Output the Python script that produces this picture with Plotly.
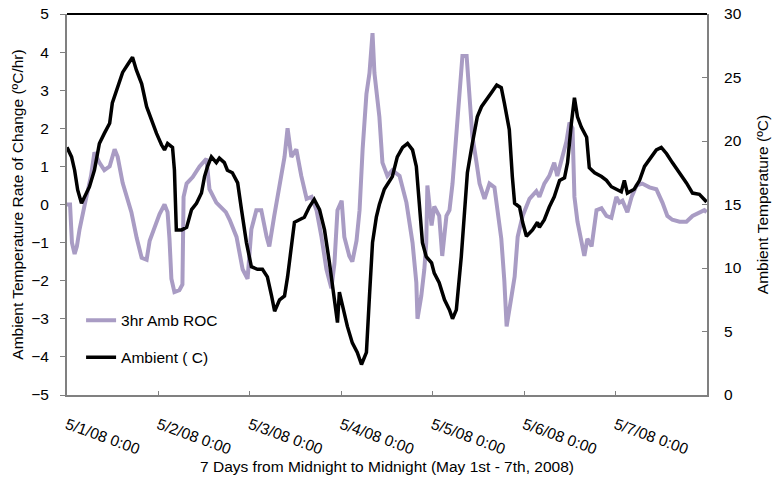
import plotly.graph_objects as go

# ---- data (hours since 5/1/08 0:00) ----
roc_hours = [0, 0.8, 1.3, 2.0, 2.6, 3.3, 4.6, 6.3, 7.2, 8.5, 9.8, 11.2, 12.5, 13.3, 14.6, 15.6,
             16.9, 18.3, 19.6, 20.9, 21.7, 23.0, 24.3, 25.6, 26.4, 26.9, 27.4, 28.2, 29.5, 30.3,
             30.6, 31.4, 33.0, 34.8, 36.6, 37.4, 39.2, 41.7, 42.7, 44.5, 46.1, 47.4, 48.4, 49.7,
             51.0, 52.4, 53.1, 54.4, 55.8, 57.1, 57.9, 58.9, 60.2, 61.5, 62.9, 64.2, 65.5, 66.8,
             68.1, 69.4, 70.2, 71.0, 72.1, 72.8, 74.1, 74.9, 76.0, 76.8, 77.6, 78.6, 79.4, 80.2,
             80.7, 82.0, 82.8, 84.1, 85.4, 87.3, 89.1, 90.7, 91.7, 92.0, 93.0, 93.8, 94.3, 94.6,
             95.7, 96.4, 97.7, 98.5, 99.6, 100.4, 101.2, 102.2, 103.0, 103.8, 104.9, 105.6, 106.4,
             107.5, 108.3, 109.6, 110.9, 112.2, 113.0, 114.0, 114.8, 115.4, 116.7, 117.5, 118.3,
             119.6, 121.4, 123.2, 124.0, 125.3, 126.6, 127.9, 128.7, 129.8, 131.1, 131.9, 132.7,
             133.2, 134.0, 135.1, 135.8, 136.6, 137.7, 139.0, 140.3, 141.6, 142.9, 144.2, 145.0,
             145.8, 147.1, 148.2, 149.5, 151.0, 152.9, 154.7, 156.3, 157.6, 158.9, 160.8, 162.6,
             164.2, 166.0, 167.3, 167.9]
roc_values = [0, 0, -1.0, -1.3, -1.1, -0.65, -0.03, 0.75, 1.37, 1.1, 0.9, 1.0, 1.45, 1.25, 0.57, 0.2,
              -0.2, -0.88, -1.4, -1.45, -0.95, -0.6, -0.25, 0.0, -0.2, -0.9, -1.95, -2.3, -2.25, -2.1,
              0.2, 0.55, 0.72, 1.0, 1.2, 0.4, 0.05, -0.2, -0.4, -0.85, -1.7, -1.95, -0.65, -0.15,
              -0.15, -0.85, -1.1, -0.3, 0.55, 1.25, 2.0, 1.25, 1.45, 0.75, 0.15, 0.2, -0.15, -0.85,
              -1.7, -2.2, -1.55, -0.15, 0.1, -0.85, -1.35, -1.5, -0.95, -0.15, 1.45, 2.9, 3.45, 4.5,
              3.45, 2.3, 1.1, 0.75, 0.9, 0.75, 0.05, -1.0, -2.05, -3.0, -2.4, -1.7, -1.0, 0.5,
              -0.55, -0.05, -0.3, -1.35, -0.3, -0.15, 0.55, 1.8, 3.1, 3.9, 3.9, 3.0, 1.8,
              1.1, 0.55, 0.15, 0.55, 0.45, -0.15, -0.9, -2.0, -3.2, -2.4, -1.9, -0.85,
              -0.3, 0.15, 0.35, 0.2, 0.55, 0.75, 1.1, 0.75, 1.2, 1.65, 2.15, 2.0,
              0.2, -0.45, -1.0, -1.35, -0.9, -1.1, -0.15, -0.1, -0.3, -0.35, 0.2, 0.05,
              0.1, -0.2, 0.2, 0.5, 0.55, 0.45, 0.4, 0.05, -0.3, -0.4, -0.45, -0.45,
              -0.3, -0.2, -0.15, -0.2]

amb_hours = [0.0, 1.2, 2.0, 2.8, 3.8, 4.6, 5.9, 7.2, 8.5, 9.8, 11.2, 11.9, 13.3, 14.6, 15.9, 17.2,
             18.2, 19.6, 20.9, 22.2, 23.5, 24.8, 25.6, 26.4, 27.7, 28.2, 28.7, 30.1, 31.4, 32.7,
             34.0, 35.3, 36.1, 36.9, 37.9, 39.2, 40.0, 41.3, 42.1, 43.4, 44.8, 45.8, 47.1, 48.4,
             50.0, 51.3, 52.6, 53.7, 54.5, 55.8, 57.1, 57.9, 58.9, 59.7, 61.0, 62.3, 63.6, 64.9,
             66.3, 67.6, 68.9, 70.2, 71.0, 71.5, 72.3, 73.6, 74.9, 76.2, 77.3, 78.6, 79.4, 80.2,
             81.2, 82.0, 83.3, 85.4, 86.7, 88.1, 89.4, 90.7, 91.7, 92.5, 93.3, 94.3, 95.7, 96.4,
             97.7, 99.1, 100.4, 101.2, 102.2, 103.5, 104.3, 105.1, 106.4, 107.7, 108.8, 110.1,
             111.4, 112.8, 114.0, 114.8, 116.1, 116.9, 117.5, 118.8, 119.6, 120.6, 122.2, 123.5,
             124.0, 125.3, 126.6, 127.9, 129.3, 130.6, 131.4, 132.4, 133.2, 134.0, 135.0, 136.4,
             137.1, 138.5, 140.3, 141.6, 142.9, 144.2, 145.5, 146.3, 147.1, 148.9, 150.3, 151.6,
             152.9, 154.7, 156.0, 157.4, 158.9, 160.8, 162.6, 164.2, 166.0, 167.9]
amb_values = [19.5, 18.75, 17.7, 16.15, 15.1, 15.6, 16.4, 17.7, 19.8, 20.6, 21.4, 23.0, 24.2, 25.4, 26.0, 26.6,
              25.6, 24.5, 22.7, 21.6, 20.6, 19.7, 19.3, 19.8, 19.5, 17.7, 13.0, 13.0, 13.2, 14.6,
              15.1, 15.9, 17.2, 18.0, 18.75, 18.3, 18.65, 18.3, 17.7, 17.5, 16.7, 14.6, 12.0, 10.1,
              9.9, 9.9, 9.3, 7.8, 6.6, 7.5, 7.8, 9.3, 11.5, 13.6, 13.8, 14.0, 14.8, 15.4,
              14.6, 13.0, 10.4, 7.3, 5.7, 8.1, 7.0, 5.4, 4.1, 3.35, 2.4, 3.35, 7.8, 12.0,
              14.0, 15.0, 16.2, 17.2, 18.75, 19.5, 19.8, 19.3, 18.0, 15.1, 12.0, 10.9, 10.4, 9.6,
              8.85, 7.5, 6.7, 6.0, 6.7, 10.9, 14.6, 17.5, 19.8, 21.9, 22.7, 23.2,
              23.8, 24.4, 24.2, 23.0, 20.9, 17.2, 15.1, 14.8, 13.6, 12.5, 13.0, 13.6,
              13.2, 13.8, 14.8, 15.6, 16.9, 17.1, 18.3, 21.4, 23.4, 21.9, 21.1, 20.3,
              17.9, 17.5, 17.2, 16.9, 16.4, 16.2, 16.0, 16.9, 15.9, 16.2, 16.9, 18.0,
              18.5, 19.3, 19.5, 19.0, 18.3, 17.5, 16.7, 15.9, 15.8, 15.2]

tick_hours = [0, 24, 48, 72, 96, 120, 144]
tick_labels = ["5/1/08 0:00", "5/2/08 0:00", "5/3/08 0:00", "5/4/08 0:00",
               "5/5/08 0:00", "5/6/08 0:00", "5/7/08 0:00"]

FONT = "Liberation Sans, Arial, sans-serif"
FS = 15.5
PURPLE = "#a99cc4"
GRAY = "#808080"

fig = go.Figure()
fig.add_trace(go.Scatter(x=roc_hours, y=roc_values, name="3hr Amb ROC", mode="lines",
                         line=dict(color=PURPLE, width=4), legendgroup="a"))
fig.add_trace(go.Scatter(x=amb_hours, y=amb_values, name="Ambient ( C)", mode="lines",
                         line=dict(color="black", width=3.5), yaxis="y2", legendgroup="b"))

fig.update_layout(
    width=772, height=501,
    margin=dict(l=67, r=65, t=14, b=106),
    paper_bgcolor="white", plot_bgcolor="white",
    font=dict(family=FONT, size=FS, color="black"),
    showlegend=True,
    legend=dict(x=0.022, y=0.24, xanchor="left", yanchor="top", bgcolor="rgba(0,0,0,0)",
                tracegroupgap=14, traceorder="grouped", font=dict(size=FS)),
    xaxis=dict(range=[0, 168], tickmode="array", tickvals=tick_hours, ticktext=tick_labels,
               tickangle=20, ticks="inside", ticklen=4, tickcolor=GRAY, showgrid=False,
               zeroline=False, showline=True, linecolor=GRAY, linewidth=2, mirror=False,
               ticklabelstandoff=13, automargin=False,
               title=dict(text="7 Days from Midnight to Midnight (May 1st - 7th, 2008)",
                          standoff=1, font=dict(size=FS))),
    yaxis=dict(range=[-5, 5], dtick=1, ticks="outside", ticklen=5, tickcolor=GRAY,
               showgrid=False, zeroline=False, showline=True, linecolor=GRAY, linewidth=2,
               ticklabelstandoff=8, automargin=False,
               title=dict(text="Ambient Temperature Rate of Change (ºC/hr)", standoff=4,
                          font=dict(size=FS))),
    yaxis2=dict(range=[0, 30], dtick=5, overlaying="y", side="right", ticks="inside",
                ticklen=5, tickcolor=GRAY, showgrid=False, zeroline=False, showline=True,
                linecolor=GRAY, linewidth=2, ticklabelstandoff=12, automargin=False,
                title=dict(text="Ambient Temperature (ºC)", standoff=16, font=dict(size=FS))),
    shapes=[dict(type="line", xref="paper", yref="paper", x0=0, x1=1, y0=1, y1=1,
                 line=dict(color="black", width=2))],
)

fig.write_html("out.html")
